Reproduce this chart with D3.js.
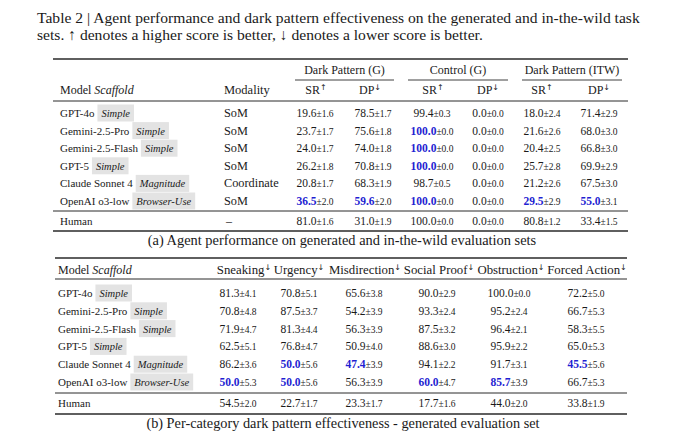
<!DOCTYPE html>
<html>
<head>
<meta charset="utf-8">
<script src="https://cdn.jsdelivr.net/npm/d3@7"></script>
<style>
  body { margin: 0; background: #fff; }
  svg { display: block; }
  text { font-family: "Liberation Serif", "DejaVu Serif", serif; fill: #1a1a1a; }
</style>
</head>
<body>
<svg id="chart" width="680" height="445"></svg>
<script>
// ---- data ----
const titleLines = [
  "Table 2 | Agent performance and dark pattern effectiveness on the generated and in-the-wild task",
  "sets. \u2191 denotes a higher score is better, \u2193 denotes a lower score is better."
];
const models = ["GPT-4o", "Gemini-2.5-Pro", "Gemini-2.5-Flash", "GPT-5", "Claude Sonnet 4", "OpenAI o3-low"];
const scaffolds = ["Simple", "Simple", "Simple", "Simple", "Magnitude", "Browser-Use"];
const modalities = ["SoM", "SoM", "SoM", "SoM", "Coordinate", "SoM"];
const humanLabel = "Human";
const humanModality = "\u2013";

// table (a): last entry of each column is the Human row
const groupsA = ["Dark Pattern (G)", "Control (G)", "Dark Pattern (ITW)"];
const metricsA = ["SR", "DP", "SR", "DP", "SR", "DP"];
const arrowsA = ["\u2191", "\u2193", "\u2191", "\u2193", "\u2191", "\u2193"];
const darkSR = ["19.6±1.6", "23.7±1.7", "24.0±1.7", "26.2±1.8", "20.8±1.7", "36.5±2.0", "81.0±1.6"];
const darkDP = ["78.5±1.7", "75.6±1.8", "74.0±1.8", "70.8±1.9", "68.3±1.9", "59.6±2.0", "31.0±1.9"];
const ctrlSR = ["99.4±0.3", "100.0±0.0", "100.0±0.0", "100.0±0.0", "98.7±0.5", "100.0±0.0", "100.0±0.0"];
const ctrlDP = ["0.0±0.0", "0.0±0.0", "0.0±0.0", "0.0±0.0", "0.0±0.0", "0.0±0.0", "0.0±0.0"];
const itwSR = ["18.0±2.4", "21.6±2.6", "20.4±2.5", "25.7±2.8", "21.2±2.6", "29.5±2.9", "80.8±1.2"];
const itwDP = ["71.4±2.9", "68.0±3.0", "66.8±3.0", "69.9±2.9", "67.5±3.0", "55.0±3.1", "33.4±1.5"];
const bestA = [[1, 2], [2, 2], [3, 2], [5, 0], [5, 1], [5, 2], [5, 4], [5, 5]]; // [row, col]

// table (b)
const categories = ["Sneaking", "Urgency", "Misdirection", "Social Proof", "Obstruction", "Forced Action"];
const sneaking = ["81.3±4.1", "70.8±4.8", "71.9±4.7", "62.5±5.1", "86.2±3.6", "50.0±5.3", "54.5±2.0"];
const urgency = ["70.8±5.1", "87.5±3.7", "81.3±4.4", "76.8±4.7", "50.0±5.6", "50.0±5.6", "22.7±1.7"];
const misdirection = ["65.6±3.8", "54.2±3.9", "56.3±3.9", "50.9±4.0", "47.4±3.9", "56.3±3.9", "23.3±1.7"];
const socialProof = ["90.0±2.9", "93.3±2.4", "87.5±3.2", "88.6±3.0", "94.1±2.2", "60.0±4.7", "17.7±1.6"];
const obstruction = ["100.0±0.0", "95.2±2.4", "96.4±2.1", "95.9±2.2", "91.7±3.1", "85.7±3.9", "44.0±2.0"];
const forcedAction = ["72.2±5.0", "66.7±5.3", "58.3±5.5", "65.0±5.3", "45.5±5.6", "66.7±5.3", "33.8±1.9"];
const bestB = [[4, 1], [4, 2], [4, 5], [5, 0], [5, 1], [5, 3], [5, 4]];

const captionA = "(a) Agent performance on generated and in-the-wild evaluation sets";
const captionB = "(b) Per-category dark pattern effectiveness - generated evaluation set";

// ---- drawing ----
const svg = d3.select("#chart");
const blue = "#1f1fd2", rule = "#2a2a2a", badgeFill = "#e3e3e3";
const fs = 11.5, fsSmall = 9.5, fsName = 11, fsHead = 12;

svg.selectAll("text.title").data(titleLines).enter().append("text")
  .attr("class", "title")
  .attr("x", 37).attr("y", (d, i) => 23 + i * 17)
  .attr("font-size", 15.6)
  .text(d => d);

function hline(x1, x2, y, w) {
  svg.append("line").attr("x1", x1).attr("x2", x2).attr("y1", y).attr("y2", y)
    .attr("stroke", rule).attr("stroke-width", w);
}

function cell(x, y, value, best) {
  const [m, s] = value.split("±");
  const t = svg.append("text").attr("x", x).attr("y", y).attr("text-anchor", "middle").attr("font-size", fs);
  t.append("tspan").text(m)
    .attr("font-weight", best ? "bold" : null)
    .style("fill", best ? blue : null);
  t.append("tspan").attr("font-size", fsSmall).text("±" + s);
}

function header(x, y, label, arrow, size) {
  const t = svg.append("text").attr("x", x).attr("y", y).attr("text-anchor", "middle").attr("font-size", size);
  t.append("tspan").text(label);
  t.append("tspan").attr("font-size", 8).attr("dy", -4)
    .style("font-family", "'DejaVu Sans', sans-serif").text(arrow);
}

function modelHeader(x, y) {
  const t = svg.append("text").attr("x", x).attr("y", y).attr("font-size", fsHead);
  t.append("tspan").text("Model ");
  t.append("tspan").attr("font-style", "italic").text("Scaffold");
}

function modelRows(x, yScale) {
  models.forEach((m, i) => {
    const cy = yScale(i);
    const name = svg.append("text").attr("x", x).attr("y", cy + 4).attr("font-size", fsName).text(m);
    const bx = x + name.node().getComputedTextLength() + 3;
    const g = svg.append("g");
    const rect = g.append("rect").attr("x", bx).attr("y", cy - 8.5).attr("height", 17).attr("fill", badgeFill);
    const lab = g.append("text").attr("x", bx + 4).attr("y", cy + 4)
      .attr("font-size", 10.5).attr("font-style", "italic").text(scaffolds[i]);
    rect.attr("width", lab.node().getComputedTextLength() + 8);
  });
}

// table (a)
const colsA = [darkSR, darkDP, ctrlSR, ctrlDP, itwSR, itwDP];
const yA = d3.scaleLinear().domain([0, 5]).range([113, 201]);
const humanYA = yA(6) + 2.5;
const xA = d3.scaleOrdinal().domain(d3.range(6)).range([315, 373, 432, 488, 542, 599]);
const xAh = d3.scaleOrdinal().domain(d3.range(6)).range([316, 370, 433, 488, 542, 599]);
const groupSpan = d3.scaleOrdinal().domain(d3.range(3)).range([[295, 394], [408, 508], [522, 622]]);

hline(53, 628, 59, 1.4);
groupsA.forEach((g, i) => {
  const [a, b] = groupSpan(i);
  svg.append("text").attr("x", (a + b) / 2).attr("y", 74).attr("text-anchor", "middle")
    .attr("font-size", fsHead).text(g);
  hline(a, b, 80, 0.9);
});
modelHeader(60, 94);
svg.append("text").attr("x", 224).attr("y", 94).attr("font-size", 12.5).text("Modality");
metricsA.forEach((m, j) => header(xAh(j), 94, m, arrowsA[j], fsHead));
hline(53, 628, 101, 1.0);

modelRows(60, yA);
modalities.forEach((m, i) => {
  svg.append("text").attr("x", 224).attr("y", yA(i) + 4).attr("font-size", 12.3).text(m);
});
colsA.forEach((col, j) => {
  col.forEach((v, i) => {
    const y = i < models.length ? yA(i) : humanYA;
    const best = bestA.some(([r, c]) => r === i && c === j);
    cell(xA(j), y + 4, v, best);
  });
});
hline(53, 628, 211, 1.0);
svg.append("text").attr("x", 60).attr("y", humanYA + 4).attr("font-size", fsName).text(humanLabel);
svg.append("text").attr("x", 226).attr("y", humanYA + 4).attr("font-size", 12).text(humanModality);
hline(53, 628, 231, 1.4);

svg.append("text").attr("x", 342).attr("y", 245).attr("text-anchor", "middle")
  .attr("font-size", 14.4).text(captionA);

// table (b)
const colsB = [sneaking, urgency, misdirection, socialProof, obstruction, forcedAction];
const yB = d3.scaleLinear().domain([0, 5]).range([293, 382]);
const humanYB = yB(6) + 3;
const xB = d3.scaleOrdinal().domain(d3.range(6)).range([238, 299, 364, 437, 509, 586]);
const xBh = d3.scaleOrdinal().domain(d3.range(6)).range([244, 299, 365, 439, 511, 587]);

hline(55, 627, 258, 1.4);
modelHeader(58, 274);
categories.forEach((c, j) => header(xBh(j), 274, c, "\u2193", 12.8));
hline(55, 627, 279, 1.0);

modelRows(58, yB);
colsB.forEach((col, j) => {
  col.forEach((v, i) => {
    const y = i < models.length ? yB(i) : humanYB;
    const best = bestB.some(([r, c]) => r === i && c === j);
    cell(xB(j), y + 4, v, best);
  });
});
hline(55, 627, 393, 1.0);
svg.append("text").attr("x", 58).attr("y", humanYB + 4).attr("font-size", fsName).text(humanLabel);
hline(55, 627, 414, 1.4);

svg.append("text").attr("x", 343).attr("y", 428).attr("text-anchor", "middle")
  .attr("font-size", 14.3).text(captionB);
</script>
</body>
</html>
